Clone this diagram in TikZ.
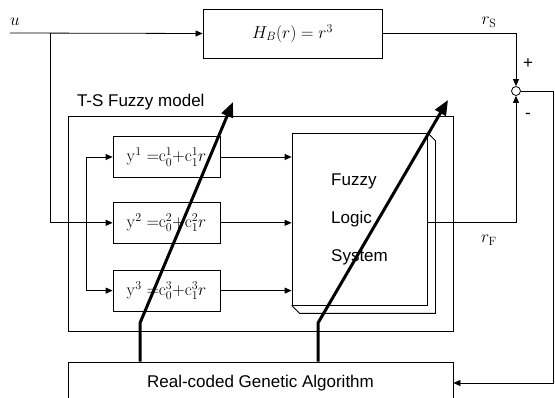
\documentclass[tikz,border=0pt]{standalone}
\usepackage[no-math]{fontspec}
\setmainfont{Liberation Sans}
\usepackage{tikz}
\usetikzlibrary{positioning,arrows.meta}

\begin{document}
\begin{tikzpicture}[
    x=1pt, y=-1pt, line width=0.8pt,
    every node/.style={font=\fontsize{17}{20}\selectfont},
    block/.style={draw, rectangle, minimum width=107pt, minimum height=41pt, inner sep=0pt},
    sig/.style={-{Triangle[length=7pt,width=6pt]}},
    tune/.style={line width=3pt, -{Triangle[length=15pt,width=12pt]}}
]
\path[use as bounding box, clip] (0,0) rectangle (555,398);

% plant
\coordinate (uin) at (10,33);
\node (ulab) at (15,22) {$u$};
\node (hb) [draw, minimum width=179pt, minimum height=49pt] at (292.5,33.5) {$H_B(r) = r^3$};

% T-S model
\node (ts) [draw, minimum width=385pt, minimum height=215pt] at (260.5,223.5) {};
\node (tslab) [anchor=south west, inner sep=0pt] at ([shift={(9,-5)}]ts.north west) {T-S Fuzzy model};
\node (y1) [block] at (166.5,157) {$\mathrm{y}^1\;{=}\mathrm{c}^1_0{+}\mathrm{c}^1_1 r$};
\node (y2) [block, below=24pt of y1] {$\mathrm{y}^2\;{=}\mathrm{c}^2_0{+}\mathrm{c}^2_1 r$};
\node (y3) [block, below=26pt of y2] {$\mathrm{y}^3\;{=}\mathrm{c}^3_0{+}\mathrm{c}^3_1 r$};
\node (fls) [draw, minimum width=135pt, minimum height=172pt, align=left,
    font=\fontsize{17}{38}\selectfont] at (359.5,219) {Fuzzy\\Logic\\System};
\draw (fls.south west) -- ++(8,8) -- ([shift={(8,8)}]fls.south east)
    -- ([shift={(8,8)}]fls.north east) -- (fls.north east);

% comparator and GA
\node (sum) [draw, circle, minimum size=9pt, inner sep=0pt] at (516,91) {};
\node (ga) [draw, minimum width=385pt, minimum height=42pt] at (260.5,383) {Real-coded Genetic Algorithm};
\node (rs) at (489,22) {$r_{\mathrm{S}}$};
\node (rf) at (489,240) {$r_{\mathrm{F}}$};
\node (plus) at (528,64) {+};
\node (minus) at (528,116) {-};

\coordinate (ubranch) at (50,33);
\coordinate (bus) at (86,0);
\coordinate (fbk) at (553,0);
\draw[sig] (uin) -- (hb.west);
\draw[sig] (ubranch) |- (y2.west);
\draw (y1.west -| bus) -- (y3.west -| bus);
\foreach \k in {1,3}
    \draw[sig] (y\k.west -| bus) -- (y\k.west);
\foreach \k in {1,2,3}
    \draw[sig] (y\k.east) -- (y\k.east -| fls.west);
\draw[sig] (hb.east) -| (sum.north);
\draw[sig] (fls.east |- y2.east) -| (sum.south);
\draw[sig] (sum.east) -| (fbk |- ga.east) -- (ga.east);

% tuning arrows
\coordinate (kinkA) at (140,323);
\coordinate (tipA) at (233,102);
\coordinate (kinkB) at (318,323);
\coordinate (tipB) at (448,100);
\draw[tune] (ga.north -| kinkA) -- (kinkA) -- (tipA);
\draw[tune] (ga.north -| kinkB) -- (kinkB) -- (tipB);
\end{tikzpicture}
\end{document}
